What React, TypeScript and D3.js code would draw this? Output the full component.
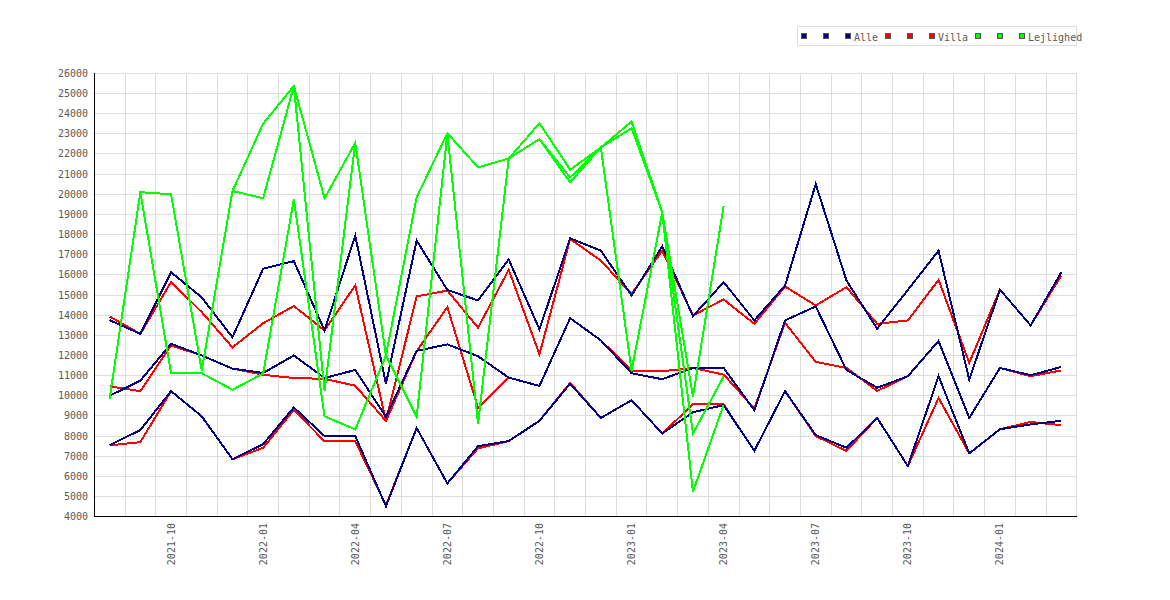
import React from 'react';
import * as d3 from 'd3';

// months on the x axis (one point per month)
const months = [
  '2021-08', '2021-09', '2021-10', '2021-11', '2021-12',
  '2022-01', '2022-02', '2022-03', '2022-04', '2022-05', '2022-06', '2022-07',
  '2022-08', '2022-09', '2022-10', '2022-11', '2022-12',
  '2023-01', '2023-02', '2023-03', '2023-04', '2023-05', '2023-06', '2023-07',
  '2023-08', '2023-09', '2023-10', '2023-11', '2023-12',
  '2024-01', '2024-02', '2024-03',
];
const tickMonths = ['2021-10', '2022-01', '2022-04', '2022-07', '2022-10', '2023-01', '2023-04', '2023-07', '2023-10', '2024-01'];
const yTicks = d3.range(4000, 26001, 1000);

const alleHigh = [13750, 13070, 16130, 14880, 12900, 16300, 16680, 13240, 17950, 10600, 17700, 15250, 14730, 16760, 13300, 17810, 17200, 14980, 17420, 13950, 15640, 13740, 15470, 20500, 15720, 13330, 15250, 17200, 10800, 15270, 13490, 16130];
const alleMid = [10000, 10750, 12580, 12000, 11350, 11130, 12000, 10880, 11280, 8950, 12230, 12550, 11960, 10900, 10490, 13850, 12750, 11120, 10820, 11380, 11380, 9280, 13740, 14430, 11280, 10400, 10970, 12720, 8900, 11380, 11020, 11430];
const alleLow = [7550, 8300, 10230, 8980, 6850, 7600, 9420, 8000, 8000, 4520, 8400, 5650, 7500, 7750, 8760, 10600, 8900, 9780, 8130, 9180, 9540, 7270, 10230, 8050, 7420, 8900, 6510, 10970, 7140, 8340, 8580, 8760];

const villaHigh = [13930, 13070, 15650, 14150, 12400, 13600, 14450, 13240, 15480, 8750, 14930, 15220, 13380, 16250, 12060, 17780, 16710, 15050, 17200, 13990, 14780, 13570, 15420, 14480, 15390, 13570, 13740, 15750, 11630, 15270, 13490, 15970];
const villaMid = [10470, 10230, 12500, 12000, 11350, 11040, 10880, 10840, 10500, 8750, 12210, 14400, 9400, 10900, 10490, 13850, 12750, 11250, 11215, 11380, 11050, 9370, 13620, 11680, 11380, 10240, 10970, 12720, 8900, 11380, 10970, 11260];
const villaLow = [7540, 7700, 10230, 8980, 6850, 7420, 9300, 7740, 7740, 4570, 8400, 5650, 7390, 7750, 8760, 10640, 8900, 9780, 8130, 9570, 9570, 7270, 10230, 8000, 7260, 8900, 6510, 9890, 7140, 8340, 8700, 8540];

// Lejlighed stops after 2023-04
const lejlHigh = [9850, 20100, 20000, 11250, 20160, 23500, 25370, 19800, 22550, 12000, 19850, 23030, 21330, 21775, 23525, 21215, 22320, 23607, 19100, 9950, 19430];
const lejlMid = [9850, 20100, 20000, 11250, 20160, 19800, 25370, 10250, 22550, 12000, 19850, 23030, 21330, 21775, 22733, 20835, 22320, 23277, 19100, 8130, 10960];
const lejlLow = [9850, 20100, 11120, 11120, 10300, 11100, 19750, 8980, 8330, 12000, 8960, 23000, 8620, 21775, 22733, 20587, 22320, 11250, 19100, 5240, 9560];

const NAVY = '#000080';
const RED = '#ff0000';
const GREEN = '#00ff00';

// drawing order: red first, navy over it, green on top
const groups = [
  { color: RED, lines: [villaHigh, villaMid, villaLow] },
  { color: NAVY, lines: [alleHigh, alleMid, alleLow] },
  { color: GREEN, lines: [lejlHigh, lejlMid, lejlLow] },
];

const legendItems = [
  { color: NAVY, label: '' }, { color: NAVY, label: '' }, { color: NAVY, label: 'Alle' },
  { color: RED, label: '' }, { color: RED, label: '' }, { color: RED, label: 'Villa' },
  { color: GREEN, label: '' }, { color: GREEN, label: '' }, { color: GREEN, label: 'Lejlighed' },
];

const W = 1170;
const H = 600;
const left = 94.3, right = 1076.7, top = 73.3, bottom = 516.7;
const FONT = '"DejaVu Sans Mono", monospace';
const TEXT = '#5a5a5a';
const CHAR = 6;

export default function App() {
  const x = d3.scaleBand<string>().domain(months).range([left, right]).padding(0);
  const bw = x.bandwidth();
  const cx = (m: string) => (x(m) as number) + bw / 2;
  const y = d3.scaleLinear().domain([4000, 26000]).range([bottom, top]);

  const line = d3.line<number>()
    .x((_, i) => cx(months[i]))
    .y(d => y(d));

  // legend layout
  let lx = 801;
  const legend = legendItems.map(it => {
    const item = { ...it, x: lx };
    const tw = it.label ? it.label.length * CHAR : CHAR;
    lx += 9 + tw + 7;
    return item;
  });

  return (
    <svg width={W} height={H} style={{ position: 'absolute', left: 0, top: 0, background: '#fff' }}>
      {/* grid */}
      <g stroke="#dddddd" strokeWidth={1} shapeRendering="crispEdges">
        {yTicks.map(t => (
          <line key={t} x1={left} x2={right} y1={y(t)} y2={y(t)} />
        ))}
        {months.map(m => (
          <line key={m} x1={(x(m) as number) + bw} x2={(x(m) as number) + bw} y1={top} y2={bottom} />
        ))}
      </g>

      {/* series */}
      <g fill="none" strokeWidth={2} strokeLinejoin="miter" shapeRendering="crispEdges">
        {groups.map((g, gi) => g.lines.map((vals, li) => (
          <path key={`${gi}-${li}`} d={line(vals) || ''} stroke={g.color} />
        )))}
      </g>

      {/* axes */}
      <g stroke="#000" strokeWidth={1.5} shapeRendering="crispEdges">
        <line x1={left} x2={left} y1={top} y2={bottom} />
        <line x1={left} x2={right} y1={bottom} y2={bottom} />
      </g>

      {/* tick labels */}
      <g fontFamily={FONT} fontSize={10} fill={TEXT}>
        {yTicks.map(t => (
          <text key={t} x={88} y={y(t)} textAnchor="end" dominantBaseline="central">{t}</text>
        ))}
        {tickMonths.map(m => (
          <text key={m} transform={`translate(${cx(m)},523) rotate(-90)`} textAnchor="end" dominantBaseline="central">{m}</text>
        ))}
      </g>

      {/* legend */}
      <rect x={797.5} y={26.5} width={279} height={19} fill="#fff" stroke="#dddddd" strokeWidth={1} shapeRendering="crispEdges" />
      <g fontFamily={FONT} fontSize={10} fill={TEXT}>
        {legend.map((it, i) => (
          <g key={i}>
            <rect x={it.x + 0.5} y={33.5} width={5} height={5} fill={it.color} stroke="#555" strokeWidth={1} shapeRendering="crispEdges" />
            {it.label && (
              <text x={it.x + 9} y={37} dominantBaseline="central">{it.label}</text>
            )}
          </g>
        ))}
      </g>
    </svg>
  );
}
